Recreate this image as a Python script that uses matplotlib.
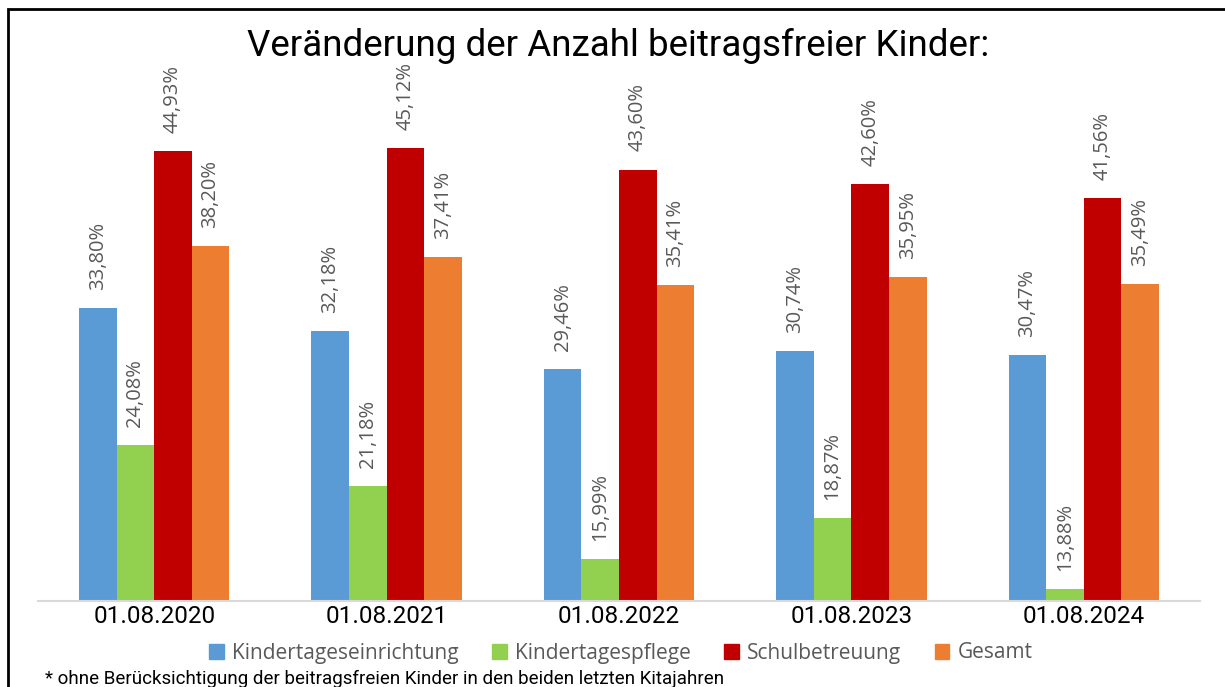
import numpy as np
import matplotlib
matplotlib.use("Agg")
import matplotlib.pyplot as plt
from matplotlib.patches import Rectangle

# Data
dates = ["01.08.2020", "01.08.2021", "01.08.2022", "01.08.2023", "01.08.2024"]
series_names = ["Kindertageseinrichtung", "Kindertagespflege", "Schulbetreuung", "Gesamt"]
einrichtung = [33.80, 32.18, 29.46, 30.74, 30.47]
pflege = [24.08, 21.18, 15.99, 18.87, 13.88]
schule = [44.93, 45.12, 43.60, 42.60, 41.56]
gesamt = [38.20, 37.41, 35.41, 35.95, 35.49]
colors = ["#5B9BD5", "#92D050", "#C00000", "#ED7D31"]

W, H = 1225, 687
fig = plt.figure(figsize=(W / 100, H / 100), dpi=100)

# frame around the chart (right/bottom edges are outside the image)
fig.patches.append(Rectangle((8 / W, -0.1), 1.2, 1 - 9 / H + 0.1, transform=fig.transFigure,
                             fill=False, edgecolor="black", linewidth=2))

ax = fig.add_axes([38 / W, 86 / H, (1200 - 38) / W, 501 / H])
x = np.arange(len(dates))
bw = 0.1616
all_series = [einrichtung, pflege, schule, gesamt]
for i, vals in enumerate(all_series):
    pos = x + (i - 1.5) * bw
    ax.bar(pos, np.array(vals) - 13, bottom=13, width=bw, color=colors[i],
           label=series_names[i])
    for p, v in zip(pos, vals):
        ax.annotate(f"{v:.2f}%".replace(".", ","), (p, v), xytext=(0, 13),
                    textcoords="offset points", rotation=90, ha="center", va="bottom",
                    fontsize=14.5, color="#595959", family="Open Sans")

ax.set_xlim(-0.5, 4.5)
ax.set_ylim(13, 13 + 501 / 14.1)
for s in ["top", "right", "left"]:
    ax.spines[s].set_visible(False)
ax.spines["bottom"].set_color("#D9D9D9")
ax.spines["bottom"].set_linewidth(1.5)
ax.set_yticks([])
ax.set_xticks(x)
ax.set_xticklabels(dates, fontsize=17.5, family="Roboto", color="black")
ax.tick_params(axis="x", length=0, pad=3)

fig.text(618 / W, 1 - 46 / H, "Veränderung der Anzahl beitragsfreier Kinder:",
         ha="center", va="center", fontsize=26.5, family="Roboto", color="black")

handles = [Rectangle((0, 0), 1, 1, color=c) for c in colors]
leg = fig.legend(handles, series_names, loc="center", bbox_to_anchor=(621 / W, 1 - 653 / H),
                 ncol=4, frameon=False, handlelength=0.7, handleheight=0.7,
                 handletextpad=0.4, columnspacing=1.6,
                 prop={"family": "Open Sans", "size": 15})
for t in leg.get_texts():
    t.set_color("#595959")

fig.text(45 / W, 1 - 679 / H,
         "* ohne Berücksichtigung der beitragsfreien Kinder in den beiden letzten Kitajahren",
         ha="left", va="center", fontsize=13.5, family="Roboto", color="black")

fig.savefig("out.png", dpi=100)
